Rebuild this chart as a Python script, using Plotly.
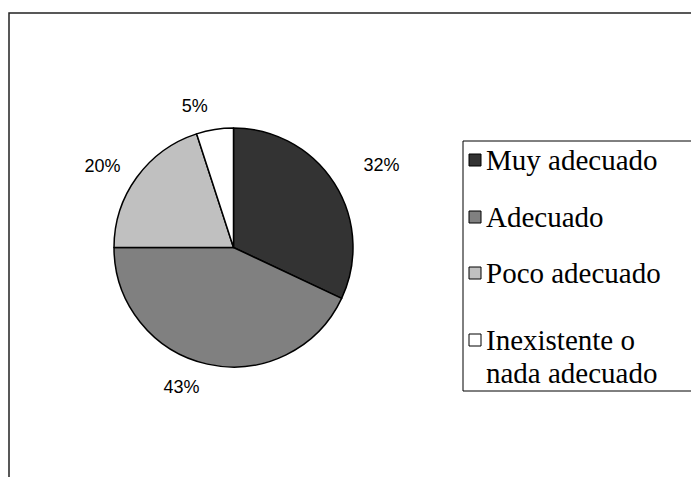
import plotly.graph_objects as go

categories = ["Muy adecuado", "Adecuado", "Poco adecuado", "Inexistente o<br>nada adecuado"]
values = [32, 43, 20, 5]
colors = ["#333333", "#808080", "#C0C0C0", "#FFFFFF"]

W, H = 699, 477
OFF = 8  # page body margin
cx, cy, r = 233.5 - OFF, 247.5 - OFF, 119.5
rl = 127
label_pull = [0.165, 0.05, 0.05, 0.05]

def dom(c, rad, total, flip=False):
    if flip:
        return [1 - (c + rad) / total, 1 - (c - rad) / total]
    return [(c - rad) / total, (c + rad) / total]

fig = go.Figure()
fig.add_trace(go.Pie(
    labels=categories, values=values, sort=False, direction="clockwise", rotation=0,
    marker=dict(colors=colors, line=dict(color="#000000", width=1.5)),
    textinfo="none", hoverinfo="label+percent", showlegend=False,
    domain=dict(x=dom(cx, r, W), y=dom(cy, r, H, True)),
))
rd = rl * (1 + max(label_pull))
fig.add_trace(go.Pie(
    labels=categories, values=values, sort=False, direction="clockwise", rotation=0,
    pull=label_pull,
    marker=dict(colors=["rgba(0,0,0,0)"] * len(values), line=dict(width=0)),
    texttemplate="%{percent:.0%}", textposition="outside",
    outsidetextfont=dict(family="Liberation Sans, Arial, sans-serif", size=18, color="#000000"),
    hoverinfo="skip", showlegend=False,
    domain=dict(x=dom(cx, rd, W), y=dom(cy, rd, H, True)),
))

shapes = [
    dict(type="rect", xref="paper", yref="paper", x0=1 / W, x1=1.05, y0=-0.05, y1=1 - 5 / H,
         line=dict(color="#222222", width=1.5), fillcolor="rgba(0,0,0,0)", layer="below"),
    dict(type="rect", xref="paper", yref="paper", x0=455 / W, x1=1.05, y0=1 - 383 / H, y1=1 - 133 / H,
         line=dict(color="#000000", width=1), fillcolor="#FFFFFF"),
]
annotations = []
item_y = [152, 209, 265, 332]
line_gap = 33
sq = 12
font = dict(family="Liberation Serif, Times New Roman, serif", size=29, color="#000000")
for name, col, yy in zip(categories, colors, item_y):
    shapes.append(dict(type="rect", xref="paper", yref="paper",
                       x0=461 / W, x1=(461 + sq) / W, y0=1 - (yy + sq / 2) / H, y1=1 - (yy - sq / 2) / H,
                       line=dict(color="#000000", width=1), fillcolor=col))
    for k, part in enumerate(name.split("<br>")):
        annotations.append(dict(text=part, xref="paper", yref="paper", x=476 / W, y=1 - (yy + k * line_gap) / H,
                                xanchor="left", yanchor="middle", align="left", showarrow=False, font=font))

fig.update_layout(
    width=W, height=H, margin=dict(l=0, r=0, t=0, b=0),
    paper_bgcolor="#FFFFFF", plot_bgcolor="#FFFFFF",
    shapes=shapes, annotations=annotations, showlegend=False,
)
fig.write_html("out.html")
